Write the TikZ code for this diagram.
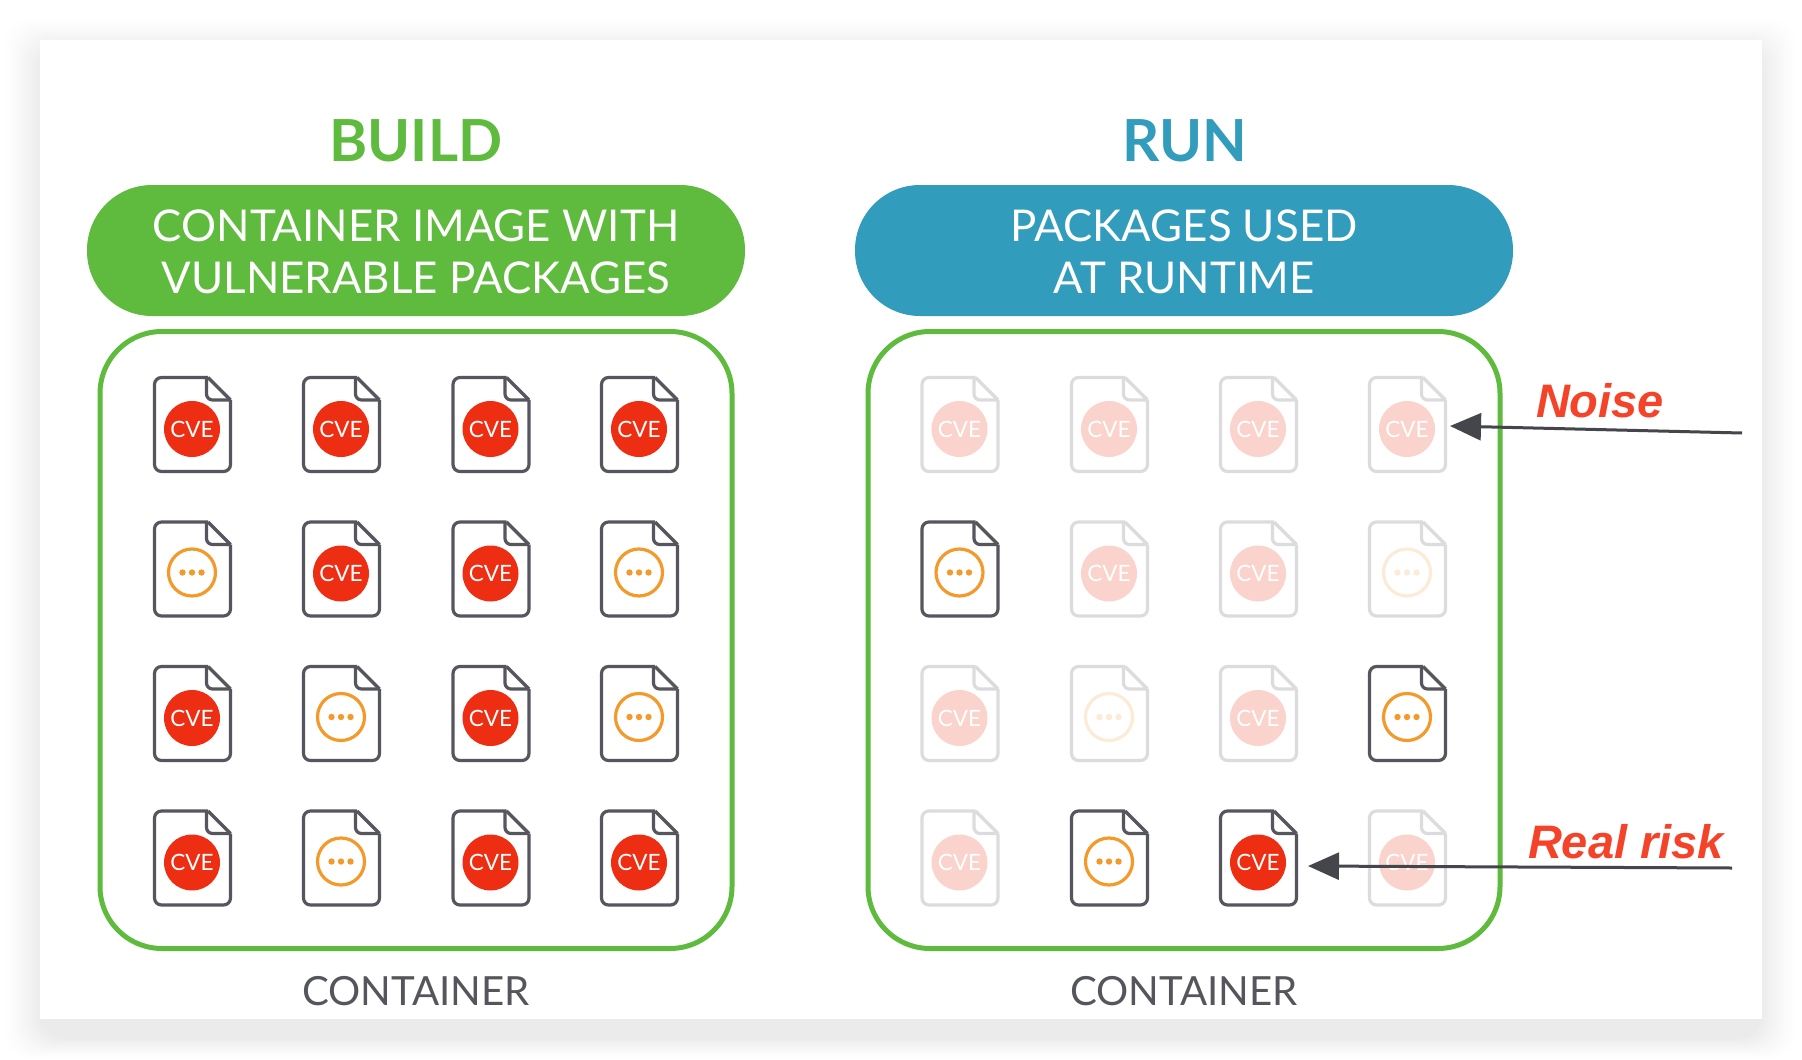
\documentclass[tikz,border=0pt]{standalone}
\usepackage{fontspec}
\setmainfont{Lato}
\setsansfont{Liberation Sans}
\usetikzlibrary{arrows.meta,calc}
\definecolor{bgreen}{HTML}{5FBB3E}
\definecolor{rblue}{HTML}{329CBC}
\definecolor{docgray}{HTML}{56575E}
\definecolor{docfade}{HTML}{DCDCDE}
\definecolor{cvered}{HTML}{EE2E12}
\definecolor{cvefade}{HTML}{FAD3CC}
\definecolor{dotor}{HTML}{F39A2B}
\definecolor{dotfade}{HTML}{FCEBD6}
\definecolor{arrowgray}{HTML}{45464B}
\definecolor{annotred}{HTML}{F44328}
\definecolor{labelgray}{HTML}{55565C}
\tikzset{
  x=1pt,y=-1pt,
  heading/.style={anchor=base,inner sep=0,font=\fontsize{58}{60}\selectfont\bfseries},
  pilltext/.style={anchor=base,inner sep=0,text=white,font=\fontsize{43.8}{52}\selectfont},
  pill/.style={minimum width=658pt,minimum height=131pt,rounded corners=65pt,inner sep=0},
  holder/.style={draw=bgreen,line width=5pt,minimum width=632pt,minimum height=617pt,rounded corners=62pt,inner sep=0},
  caption/.style={anchor=base,inner sep=0,text=labelgray,font=\fontsize{40.2}{42}\selectfont},
  docbox/.style={minimum width=79pt,minimum height=96pt,inner sep=0},
  badge/.style={circle,minimum size=56pt,inner sep=0,text=white,font=\fontsize{22.5}{23}\selectfont},
  ring/.style={circle,minimum size=47pt,inner sep=0,line width=3.2pt},
  annot/.style={inner sep=0,anchor=base,text=annotred,font=\sffamily\bfseries\itshape\fontsize{47}{50}\selectfont},
  pointer/.style={draw=arrowgray,line width=3pt,-{Triangle[length=31pt,width=27pt]}},
}
% #1 name, #2 x, #3 y (outer top-left), #4 line colour
\newcommand\docshape[4]{%
  \node[docbox] (#1) at (#2+39.5,#3+48) {};
  \draw[#4,line width=3.2pt,line join=round,rounded corners=7pt]
    (#2+55,#3+0.5) -- (#2+1.5,#3+0.5) -- (#2+1.5,#3+94.5) -- (#2+77.5,#3+94.5) -- (#2+77.5,#3+23);
  \draw[#4,line width=3.2pt,line join=round]
    (#2+77.5,#3+23) -- (#2+55,#3+0.5);
  \draw[#4,line width=3.2pt,line join=round,rounded corners=6pt]
    (#2+53.5,#3+0.5) -- (#2+53.5,#3+23) -- (#2+77.5,#3+23);
}
\newcommand\cvedoc[4]{% name x y faded(0/1)
  \ifnum#4=1
    \docshape{#1}{#2}{#3}{docfade}
    \node[badge,fill=cvefade] (#1b) at (#2+39,#3+52) {CVE};
  \else
    \docshape{#1}{#2}{#3}{docgray}
    \node[badge,fill=cvered] (#1b) at (#2+39,#3+52) {CVE};
  \fi}
\newcommand\dotdoc[4]{%
  \ifnum#4=1
    \docshape{#1}{#2}{#3}{docfade}\def\dcol{dotfade}
  \else
    \docshape{#1}{#2}{#3}{docgray}\def\dcol{dotor}
  \fi
  \node[ring,draw=\dcol] (#1b) at (#2+39,#3+51) {};
  \fill[\dcol] (#1b.center) circle (3.2pt) +(-9.5,0) circle (3.2pt) +(9.5,0) circle (3.2pt);}
\begin{document}
\begin{tikzpicture}
\useasboundingbox (0,0) rectangle (1802,1060);
\fill[white] (0,0) rectangle (1802,1060);
% soft shadow of the panel
\foreach \i in {0,...,19}{
  \pgfmathsetmacro{\tt}{(\i/19)^0.75}
  \fill[black,opacity=0.0045,rounded corners=26pt]
    ({40-36+36*\tt},{40-22+30*\tt}) rectangle ({1762+34-34*\tt},{1019+40-20*\tt});
}
\fill[white] (40,40) rectangle (1762,1019);
% headings
\node[heading,text=bgreen] (buildh) at (416,161) {BUILD};
\node[heading,text=rblue] (runh) at (1184.5,161) {RUN};
\node[pill,fill=bgreen] (buildp) at (416,250.5) {};
\node[pill,fill=rblue] (runp) at (1184,250.5) {};
\node[pilltext] (bt1) at (416,241) {CONTAINER IMAGE WITH};
\node[pilltext] (bt2) at (416,293) {VULNERABLE PACKAGES};
\node[pilltext] (rt1) at (1184,241) {PACKAGES USED};
\node[pilltext] (rt2) at (1184,293) {AT RUNTIME};
\node[holder] (buildc) at (416,640) {};
\node[holder] (runc) at (1184,640) {};
\node[caption] (buildl) at (416,1005) {CONTAINER};
\node[caption] (runl) at (1184,1005) {CONTAINER};
% BUILD icons
\cvedoc{b11}{153}{377}{0}\cvedoc{b12}{302}{377}{0}\cvedoc{b13}{451.5}{377}{0}\cvedoc{b14}{600}{377}{0}
\dotdoc{b21}{153}{521.5}{0}\cvedoc{b22}{302}{521.5}{0}\cvedoc{b23}{451.5}{521.5}{0}\dotdoc{b24}{600}{521.5}{0}
\cvedoc{b31}{153}{666}{0}\dotdoc{b32}{302}{666}{0}\cvedoc{b33}{451.5}{666}{0}\dotdoc{b34}{600}{666}{0}
\cvedoc{b41}{153}{810.5}{0}\dotdoc{b42}{302}{810.5}{0}\cvedoc{b43}{451.5}{810.5}{0}\cvedoc{b44}{600}{810.5}{0}
% RUN icons
\cvedoc{r11}{920.5}{377}{1}\cvedoc{r12}{1070}{377}{1}\cvedoc{r13}{1219}{377}{1}\cvedoc{r14}{1368}{377}{1}
\dotdoc{r21}{920.5}{521.5}{0}\cvedoc{r22}{1070}{521.5}{1}\cvedoc{r23}{1219}{521.5}{1}\dotdoc{r24}{1368}{521.5}{1}
\cvedoc{r31}{920.5}{666}{1}\dotdoc{r32}{1070}{666}{1}\cvedoc{r33}{1219}{666}{1}\dotdoc{r34}{1368}{666}{0}
\cvedoc{r41}{920.5}{810.5}{1}\dotdoc{r42}{1070}{810.5}{0}\cvedoc{r43}{1219}{810.5}{0}\cvedoc{r44}{1368}{810.5}{1}
% annotations
\node[annot] (noise) at (1600,417) {Noise};
\node[annot] (risk) at (1626,858) {Real risk};
\coordinate (noiseend) at (1742,433);
\coordinate (riskend) at (1732,868);
\coordinate (noisetip) at (1450,426);
\coordinate (risktip) at (1308,866);
\draw[pointer] (noiseend) -- (noisetip);
\draw[pointer] (riskend) -- (risktip);
\end{tikzpicture}
\end{document}
